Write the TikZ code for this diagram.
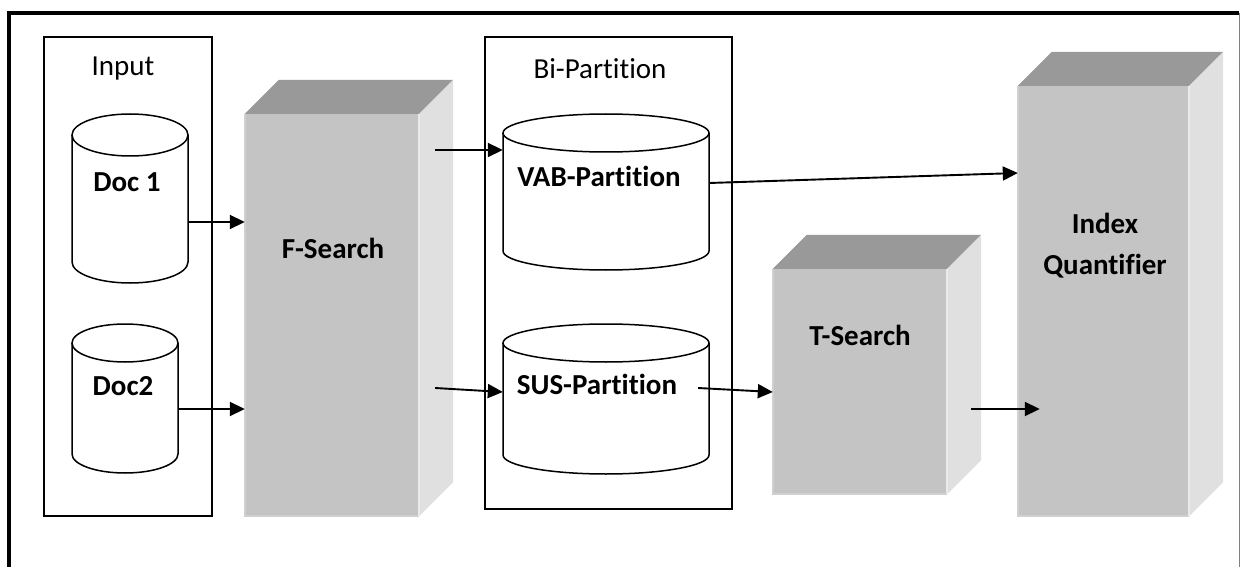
\documentclass[tikz,border=0pt]{standalone}
\usepackage{fontspec}
\setmainfont{Carlito}[Ligatures={NoCommon}]
\usetikzlibrary{arrows.meta,calc}

\definecolor{frontgray}{HTML}{C4C4C4}
\definecolor{topgray}{HTML}{999999}
\definecolor{sidegray}{HTML}{E0E0E0}
\definecolor{edgegray}{HTML}{D0D0D0}
\definecolor{seamgray}{HTML}{EAEAEA}

\tikzset{
  lbl/.style={font=\fontsize{29}{35}\selectfont, inner sep=0pt},
  blbl/.style={font=\fontsize{29}{41}\selectfont\bfseries, inner sep=0pt, align=center},
  groupbox/.style={draw, line width=1.4pt, inner sep=0pt},
  arr/.style={line width=1.9pt, -{Triangle[length=15pt,width=14pt]}},
  drum/.style={draw, line width=1.5pt, fill=white},
  frontface/.style={fill=frontgray, draw=none, inner sep=0pt},
  area/.style={draw=none, inner sep=0pt},
}

% top and side faces of a block whose front face is node #1, depth #2
\newcommand\blockfaces[2]{%
  \fill[topgray] (#1.north west) -- (#1.north east) -- ++(#2,-#2)
    -- ($(#1.north west)+(#2,-#2)$) -- cycle;
  \fill[sidegray] (#1.north east) -- ++(#2,-#2)
    -- ($(#1.south east)+(#2,-#2)$) -- (#1.south east) -- cycle;
  \draw[edgegray, line width=1.5pt] (#1.north west) -- (#1.south west) -- (#1.south east);
  \draw[seamgray, line width=1.5pt] (#1.north east) -- (#1.south east);
}

% cylinder: centre x, top ellipse y, bottom ellipse y, x radius, y radius
\newcommand\drum[5]{%
  \draw[drum] (#1-#4,#2) -- (#1-#4,#3)
    arc[start angle=180, end angle=0, x radius=#4, y radius=#5] -- (#1+#4,#2);
  \draw[drum] (#1,#2) ellipse[x radius=#4, y radius=#5];
}

\begin{document}
\begin{tikzpicture}[x=1pt, y=-1pt]
  \useasboundingbox (0,0) rectangle (1240,567);

  % page frame
  \draw[line width=4pt] (9,567) -- (9,13) -- (1239,13);
  \draw[gray, line width=1pt] (1239,13) -- (1239,567);

  % group boxes
  \node[groupbox, minimum width=168pt, minimum height=479pt] (inputbox) at (128,276.5) {};
  \node[lbl] (inputlbl) at (123,69) {Input};
  \node[groupbox, minimum width=247pt, minimum height=472pt] (bibox) at (608.5,273) {};
  \node[lbl] (bilbl) at (600,69) {Bi-Partition};

  % document stores
  \drum{130}{135}{262}{58}{21}
  \node[area, minimum width=116pt, minimum height=169pt] (doc1) at (130,198.5) {};
  \node[blbl] (doc1lbl) at (127,182) {Doc 1};

  \drum{125}{343}{454}{53}{19}
  \node[area, minimum width=106pt, minimum height=150pt] (doc2) at (125,398) {};
  \node[blbl] (doc2lbl) at (123,386) {Doc2};

  % partition stores
  \drum{606}{133}{251}{103}{19}
  \node[area, minimum width=206pt, minimum height=155pt] (vab) at (606,191.5) {};
  \node[blbl] (vablbl) at (599,176) {VAB-Partition};

  \drum{606}{343}{455}{103}{19}
  \node[area, minimum width=206pt, minimum height=149pt] (sus) at (606,398.5) {};
  \node[blbl] (suslbl) at (597,384) {SUS-Partition};

  % processing blocks
  \node[frontface, minimum width=174pt, minimum height=402pt] (fs) at (332,315) {};
  \blockfaces{fs}{34}
  \node[blbl] (fslbl) at (333,248) {F-Search};

  \node[frontface, minimum width=174pt, minimum height=225pt] (ts) at (860,381.5) {};
  \blockfaces{ts}{34}
  \node[blbl] (tslbl) at (860,335) {T-Search};

  \node[frontface, minimum width=171pt, minimum height=430pt] (iq) at (1103.5,301) {};
  \blockfaces{iq}{34}
  \node[blbl] (iqlbl) at (1105,246) {Index\\Quantifier};

  % flow
  \draw[arr] ($(doc1.east)+(0,23.5)$) -- ($(fs.west)+(0,-93)$);
  \draw[arr] ($(doc2.east)+(0,11)$) -- ($(fs.west)+(0,94)$);
  \draw[arr] ($(fs.east)+(16,-165)$) -- ($(vab.west)+(0,-41.5)$);
  \draw[arr] ($(fs.east)+(16,73)$) -- ($(sus.west)+(0,-6.5)$);
  \draw[arr] ($(vab.east)+(0,-8.5)$) -- ($(iq.west)+(0,-128)$);
  \draw[arr] ($(sus.east)+(-11,-10.5)$) -- ($(ts.west)+(0,10.5)$);
  \draw[arr] ($(ts.east)+(24,27.5)$) -- ($(iq.west)+(22,108)$);
\end{tikzpicture}
\end{document}
